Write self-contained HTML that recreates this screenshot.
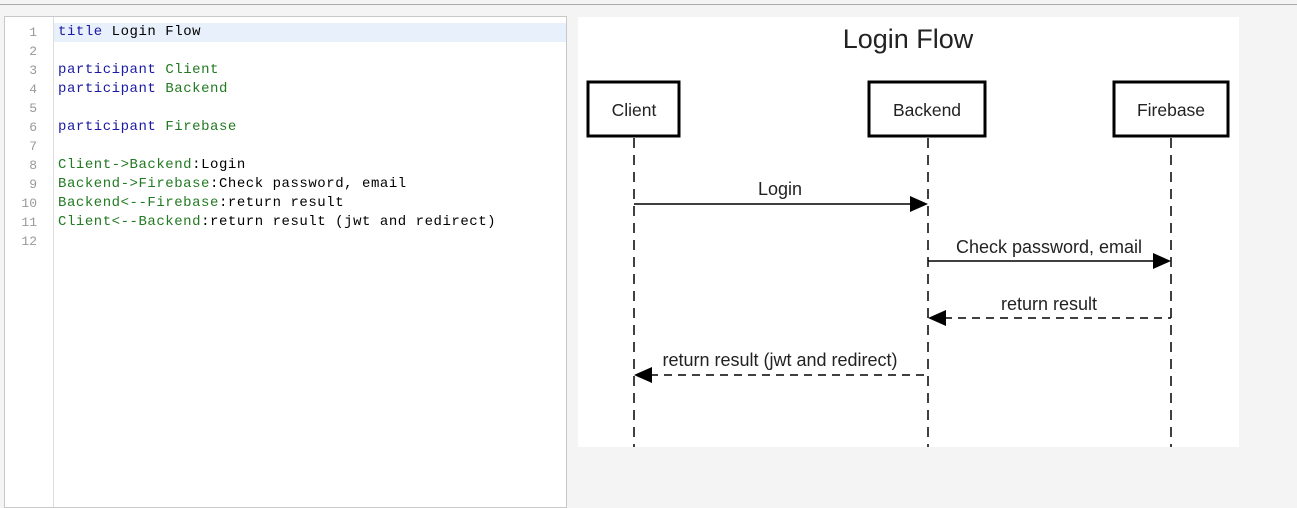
<!DOCTYPE html>
<html><head><style>
body{margin:0;width:1297px;height:496px;background:#f4f4f4;position:relative;overflow:hidden;font-family:"Liberation Sans",sans-serif}
.topline{position:absolute;left:0;top:4px;width:1297px;height:1px;background:#aaa}
.ed{position:absolute;left:4px;top:16px;width:561px;height:490px;background:#fff;border:1px solid #c8c8c8}
.gut{position:absolute;left:0;top:0;width:48px;height:100%;border-right:1px solid #ddd;background:#fff}
.ln{position:absolute;left:0;width:33px;text-align:right;font:13px "Liberation Mono",monospace;color:#999}
.cl{position:absolute;left:54px;font:14px "Liberation Mono",monospace;letter-spacing:0.54px;color:#000;white-space:pre}
.hl{position:absolute;left:49px;top:6px;width:512px;height:19px;background:#e8f0fb}
.k{color:#1a1aa6}.g{color:#217a21}
</style></head><body>
<div class="topline"></div>
<div class="ed">
<div class="hl"></div>
<div class="gut"></div>
</div>
<div style="position:absolute;left:4px;top:16px">
<div class="ln" style="top:9px">1</div><div class="ln" style="top:28px">2</div><div class="ln" style="top:47px">3</div><div class="ln" style="top:66px">4</div><div class="ln" style="top:85px">5</div><div class="ln" style="top:104px">6</div><div class="ln" style="top:123px">7</div><div class="ln" style="top:142px">8</div><div class="ln" style="top:161px">9</div><div class="ln" style="top:180px">10</div><div class="ln" style="top:199px">11</div><div class="ln" style="top:218px">12</div>
<div class="cl" style="top:8px"><span class="k">title</span> Login Flow</div>
<div class="cl" style="top:46px"><span class="k">participant</span> <span class="g">Client</span></div>
<div class="cl" style="top:65px"><span class="k">participant</span> <span class="g">Backend</span></div>
<div class="cl" style="top:103px"><span class="k">participant</span> <span class="g">Firebase</span></div>
<div class="cl" style="top:141px"><span class="g">Client-&gt;Backend</span>:Login</div>
<div class="cl" style="top:160px"><span class="g">Backend-&gt;Firebase</span>:Check password, email</div>
<div class="cl" style="top:179px"><span class="g">Backend&lt;--Firebase</span>:return result</div>
<div class="cl" style="top:198px"><span class="g">Client&lt;--Backend</span>:return result (jwt and redirect)</div>
</div>
<svg style="position:absolute;left:0;top:0" width="1297" height="496">
<rect x="578" y="17" width="661" height="430" fill="#fff"/>
<g font-family="Liberation Sans,sans-serif" fill="#222">
<text x="908" y="48" font-size="27" text-anchor="middle">Login Flow</text>
</g>
<g stroke="#000" stroke-width="3" fill="#fff">
<rect x="588" y="82" width="91" height="54"/>
<rect x="869" y="82" width="116" height="54"/>
<rect x="1114" y="82" width="114" height="54"/>
</g>
<g font-family="Liberation Sans,sans-serif" font-size="17.5" fill="#222" text-anchor="middle">
<text x="634" y="116">Client</text>
<text x="927" y="116">Backend</text>
<text x="1171" y="116">Firebase</text>
</g>
<g stroke="#000" stroke-width="1.5" stroke-dasharray="10,7">
<line x1="634" y1="138" x2="634" y2="447"/>
<line x1="928" y1="138" x2="928" y2="447"/>
<line x1="1171" y1="138" x2="1171" y2="447"/>
</g>
<g stroke="#000" stroke-width="1.5">
<line x1="634" y1="204" x2="912" y2="204"/>
<line x1="928" y1="261" x2="1155" y2="261"/>
<line x1="944" y1="318" x2="1171" y2="318" stroke-dasharray="8,6"/>
<line x1="650" y1="375" x2="928" y2="375" stroke-dasharray="8,6"/>
</g>
<g fill="#000">
<polygon points="910,196 928,204 910,212"/>
<polygon points="1153,253 1171,261 1153,269"/>
<polygon points="946,310 928,318 946,326"/>
<polygon points="652,367 634,375 652,383"/>
</g>
<g font-family="Liberation Sans,sans-serif" font-size="18" fill="#222" text-anchor="middle">
<text x="780" y="195">Login</text>
<text x="1049" y="253">Check password, email</text>
<text x="1049" y="310">return result</text>
<text x="780" y="366">return result (jwt and redirect)</text>
</g>
</svg>
</body></html>
